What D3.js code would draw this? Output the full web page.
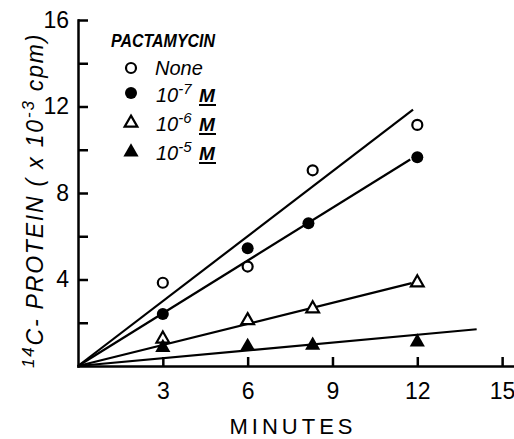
<!DOCTYPE html>
<html>
<head>
<meta charset="utf-8">
<script src="https://cdn.jsdelivr.net/npm/d3@7"></script>
<style>
  body { margin: 0; background: #fff; }
  svg { display: block; }
  .axis text { font-family: "Liberation Sans Narrow", "Liberation Sans", Arial, sans-serif; font-size: 23px; fill: #000; }
  .axis path, .axis line { stroke: #000; stroke-width: 2.5px; }
  .lbl { font-family: "Liberation Sans", Arial, sans-serif; fill: #000; }
</style>
</head>
<body>
<div id="chart"></div>
<script>
// Pactamycin incorporation chart

const W = 514, H = 439
const M = { TOP: 20, BOTTOM: 73, LEFT: 78, RIGHT: 0 }

// data
const seriesNames = ["None", "10-7", "10-6", "10-5"]
const timeNone = [3, 6, 8.3, 12]
const valNone = [3.85, 4.6, 9.05, 11.15]
const time7 = [3, 6, 8.15, 12]
const val7 = [2.4, 5.45, 6.6, 9.65]
const time6 = [3, 6, 8.3, 12]
const val6 = [1.3, 2.15, 2.7, 3.9]
const time5 = [3, 6, 8.3, 12]
const val5 = [0.9, 0.95, 1.0, 1.15]

// fitted lines, from origin to end point
const fitEndX = [11.85, 11.75, 11.8, 14.1]
const fitEndY = [11.85, 9.55, 3.83, 1.7]

const xTicks = [3, 6, 9, 12, 15]
const yTicks = [2, 4, 6, 8, 10, 12, 14, 16]
const yLabels = [4, 8, 12, 16]

const svg = d3.select("#chart").append("svg")
    .attr("width", W)
    .attr("height", H)

const x = d3.scaleLinear().domain([0, 15.42]).range([M.LEFT, W - M.RIGHT])
const y = d3.scaleLinear().domain([0, 16]).range([H - M.BOTTOM, M.TOP])

// axes
svg.append("g")
    .attr("class", "axis")
    .attr("transform", `translate(0, ${y(0)})`)
    .call(d3.axisBottom(x).tickValues(xTicks).tickSizeInner(-9).tickSizeOuter(0).tickPadding(17))
    .call(g => g.select(".domain").attr("stroke-linecap", "square"))

svg.append("g")
    .attr("class", "axis")
    .attr("transform", `translate(${x(0)}, 0)`)
    .call(d3.axisLeft(y).tickValues(yTicks).tickSizeInner(-10).tickSizeOuter(0).tickPadding(9)
        .tickFormat(d => yLabels.includes(d) ? d : ""))
    .call(g => g.select(".domain").attr("stroke-linecap", "square"))

svg.selectAll(".axis text").attr("fill", "#000")

// fit lines
const line = d3.line().x(d => x(d[0])).y(d => y(d[1]))
fitEndX.forEach((ex, i) => {
    svg.append("path")
        .attr("d", line([[0, 0], [ex, fitEndY[i]]]))
        .attr("fill", "none")
        .attr("stroke", "#000")
        .attr("stroke-width", 2.2)
})

// markers
const tri = d3.symbol().type(d3.symbolTriangle)
function marker(sel, kind, cx, cy) {
    if (kind === 0) {
        sel.append("circle").attr("cx", cx).attr("cy", cy).attr("r", 5)
            .attr("fill", "#fff").attr("stroke", "#000").attr("stroke-width", 2.2)
    } else if (kind === 1) {
        sel.append("circle").attr("cx", cx).attr("cy", cy).attr("r", 6).attr("fill", "#000")
    } else if (kind === 2) {
        sel.append("path").attr("d", tri.size(70)()).attr("transform", `translate(${cx},${cy + 1})`)
            .attr("fill", "#fff").attr("stroke", "#000").attr("stroke-width", 2.2)
    } else {
        sel.append("path").attr("d", tri.size(100)()).attr("transform", `translate(${cx},${cy + 1})`)
            .attr("fill", "#000")
    }
}

const allTimes = [timeNone, time7, time6, time5]
const allVals = [valNone, val7, val6, val5]
const pts = svg.append("g")
allTimes.forEach((ts, k) => {
    ts.forEach((t, j) => marker(pts, k, x(t), y(allVals[k][j])))
})

// legend
const leg = svg.append("g")
leg.append("text")
    .attr("class", "lbl")
    .attr("x", 111).attr("y", 47)
    .attr("font-size", 18).attr("font-style", "italic").attr("font-weight", "bold")
    .attr("textLength", 104).attr("lengthAdjust", "spacingAndGlyphs")
    .text("PACTAMYCIN")

const legY = [68, 93, 122, 151]
seriesNames.forEach((name, i) => {
    marker(leg, i, 131, legY[i])
    if (i === 0) {
        leg.append("text").attr("class", "lbl")
            .attr("x", 155).attr("y", legY[i] + 7)
            .attr("font-size", 20).attr("font-style", "italic")
            .text("None")
    } else {
        const t = leg.append("text").attr("class", "lbl")
            .attr("x", 156).attr("y", legY[i] + 9)
            .attr("font-size", 20).attr("font-style", "italic")
        t.append("tspan").text("10")
        t.append("tspan").attr("dy", -8).attr("font-size", 15).text(name.slice(2))
        const m = leg.append("text").attr("class", "lbl")
            .attr("x", 199).attr("y", legY[i] + 9)
            .attr("font-size", 19).attr("font-style", "italic").attr("font-weight", "bold")
            .text("M")
        const bb = m.node().getBBox()
        leg.append("line")
            .attr("x1", bb.x).attr("x2", bb.x + bb.width)
            .attr("y1", legY[i] + 12).attr("y2", legY[i] + 12)
            .attr("stroke", "#000").attr("stroke-width", 2)
    }
})

// axis titles
svg.append("text")
    .attr("class", "lbl")
    .attr("x", 293).attr("y", 434)
    .attr("text-anchor", "middle")
    .attr("font-size", 22)
    .attr("letter-spacing", 4)
    .text("MINUTES")

const yt = svg.append("text")
    .attr("class", "lbl")
    .attr("transform", "translate(43, 368) rotate(-90)")
    .attr("font-size", 23).attr("font-style", "italic")
    .attr("letter-spacing", 1.8)
yt.append("tspan").attr("dy", -9).attr("font-size", 17).text("14")
yt.append("tspan").attr("dy", 9).text("C- PROTEIN  ( x 10")
yt.append("tspan").attr("dy", -9).attr("font-size", 17).text("-3")
yt.append("tspan").attr("dy", 9).text(" cpm)")
</script>
</body>
</html>
